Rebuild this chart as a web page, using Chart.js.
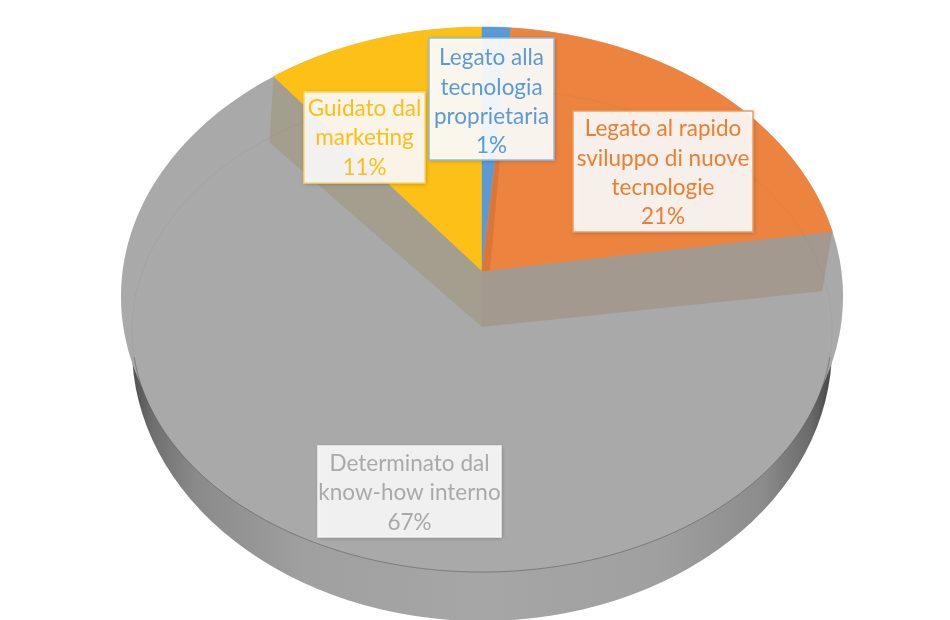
<!DOCTYPE html>
<html><head><meta charset="utf-8">
<style>html,body{margin:0;padding:0;background:#fff}canvas{display:block}</style>
<script src="https://cdn.jsdelivr.net/npm/chart.js@4"></script>
</head><body><canvas id="c" width="950" height="620"></canvas>
<script>
// Data (labels show rounded percentages)
const categories = ["Legato alla tecnologia proprietaria","Legato al rapido sviluppo di nuove tecnologie","Determinato dal know-how interno","Guidato dal marketing"];
const values = [1.4, 21.2, 66.7, 10.7];
const sliceColors = ["#5b9bd5","#ec8440","#a9a9a9","#fdc016"];
const textColors = ["#5b9bd5","#ed7d31","#a9a9a9","#fbbf1a"];
const labelLines = [["Legato alla","tecnologia","proprietaria"],["Legato al rapido","sviluppo di nuove","tecnologie"],["Determinato dal","know-how interno"],["Guidato dal","marketing"]];

// Layout
const labelBoxes = [
 {x:429,y:38,w:125,h:122,dy:3,bg:"rgba(255,255,255,0.92)",border:"#8fbce2"},
 {x:573,y:111,w:180,h:121,dy:1.5,bg:"rgba(255,255,255,0.9)",border:"#ef9a5f"},
 {x:318,y:446,w:183,h:91,dy:1.5,bg:"rgba(255,255,255,0.88)",border:"#f4f4f4"},
 {x:304,y:92,w:121,h:91,dy:0.5,bg:"rgba(255,255,255,0.9)",border:"#fdd568"}];
const TOP = {cx:482,cy:271,A:359.4,B:267.1,k:0.0946};
const FLOOR = {cx:482,cy:327,A:350,B:242,k:0.0124};
const WALL = {cx:482,cy:348,rx:350,ry:273};
const FONT = "22.5px Lato";
const LINE_H = 29.3;

function proj(P,a,r){const u=r*Math.cos(a),v=-r*Math.sin(a),w=1+P.k*v;return [P.cx+P.A*u/w,P.cy-P.B*v/w];}
function sector(ctx,P,a0,a1){ctx.beginPath();ctx.moveTo(P.cx,P.cy);const n=Math.max(4,Math.ceil((a1-a0)*60));
 for(let i=0;i<=n;i++){const p=proj(P,a0+(a1-a0)*i/n,1);ctx.lineTo(p[0],p[1]);}ctx.closePath();}
function disc(ctx,P){ctx.beginPath();for(let i=0;i<=240;i++){const p=proj(P,i/240*2*Math.PI,1);i?ctx.lineTo(p[0],p[1]):ctx.moveTo(p[0],p[1]);}ctx.closePath();}
function quad(ctx,a,b,c,d,col){ctx.beginPath();ctx.moveTo(a[0],a[1]);ctx.lineTo(b[0],b[1]);ctx.lineTo(c[0],c[1]);ctx.lineTo(d[0],d[1]);ctx.closePath();ctx.fillStyle=col;ctx.fill();}

const pie3d = {id:"pie3d",
 beforeDatasetDraw(chart,args){
  const ctx=chart.ctx, arcs=args.meta.data;
  const col=i=>arcs[i].options.backgroundColor;
  ctx.save();
  // outer wall
  const g=ctx.createLinearGradient(WALL.cx-WALL.rx,0,WALL.cx+WALL.rx,0);
  [[0,"#4f4f4f"],[0.03,"#6f6f6f"],[0.09,"#8a8a8a"],[0.25,"#a0a0a0"],[0.5,"#a6a6a6"],[0.75,"#a0a0a0"],[0.9,"#8c8c8c"],[0.97,"#6a6a6a"],[1,"#454545"]].forEach(s=>g.addColorStop(s[0],s[1]));
  ctx.beginPath();ctx.ellipse(WALL.cx,WALL.cy,WALL.rx,WALL.ry,0,0,2*Math.PI);ctx.fillStyle=g;ctx.fill();
  // grey surface
  ctx.fillStyle=col(2);disc(ctx,TOP);ctx.fill();disc(ctx,FLOOR);ctx.fill();
  // inner walls of the grey slice
  const aO=arcs[1].endAngle,aY=arcs[3].startAngle;
  quad(ctx,[TOP.cx,TOP.cy],proj(TOP,aO,1),proj(FLOOR,aO,0.985),[FLOOR.cx,FLOOR.cy],"#a3998f");
  quad(ctx,[TOP.cx,TOP.cy],proj(TOP,aY,1),proj(FLOOR,aY,0.985),[FLOOR.cx,FLOOR.cy],"#a39e8e");
  // raised slices
  [3,0,1].forEach(i=>{sector(ctx,TOP,arcs[i].startAngle,arcs[i].endAngle);ctx.fillStyle=col(i);ctx.fill();ctx.strokeStyle=col(i);ctx.lineWidth=0.5;ctx.stroke();});
  // side shade next to the blue slice
  const bE=arcs[0].endAngle,pS=proj(TOP,bE,0.45),pE=proj(TOP,bE+0.03,0.45);
  quad(ctx,[TOP.cx,TOP.cy],pS,pE,[TOP.cx+8,TOP.cy-0.5],"#dc7636");
  // rim line
  disc(ctx,FLOOR);ctx.strokeStyle="rgba(90,90,90,0.08)";ctx.lineWidth=1;ctx.stroke();
  ctx.save();ctx.beginPath();ctx.rect(0,FLOOR.cy+30,950,400);ctx.clip();disc(ctx,FLOOR);ctx.strokeStyle="rgba(90,90,90,0.5)";ctx.stroke();ctx.restore();
  ctx.restore();
  return false;
 },
 afterDraw(chart){
  const ctx=chart.ctx, total=values.reduce((a,b)=>a+b,0);
  ctx.save();ctx.textAlign="center";ctx.textBaseline="middle";ctx.font=FONT;
  labelBoxes.forEach((b,i)=>{
   ctx.save();ctx.shadowColor="rgba(0,0,0,0.28)";ctx.shadowBlur=4;ctx.shadowOffsetX=1;ctx.shadowOffsetY=1;
   ctx.fillStyle=b.bg;ctx.fillRect(b.x,b.y,b.w,b.h);ctx.restore();
   ctx.strokeStyle=b.border;ctx.lineWidth=1.5;ctx.strokeRect(b.x,b.y,b.w,b.h);
   const lines=labelLines[i].concat([Math.round(values[i]/total*100)+"%"]);
   const y0=b.y+b.h/2-(lines.length-1)*LINE_H/2+b.dy;
   ctx.fillStyle=textColors[i];
   ctx.filter="blur(0.4px)";
   lines.forEach((t,j)=>ctx.fillText(t,b.x+b.w/2,y0+j*LINE_H));
   ctx.filter="none";
  });
  ctx.restore();
 }};

new Chart(document.getElementById("c"),{type:"pie",
 data:{labels:categories,datasets:[{data:values,backgroundColor:sliceColors,borderWidth:0}]},
 options:{responsive:false,animation:false,rotation:0,events:[],plugins:{legend:{display:false},tooltip:{enabled:false},title:{display:false}}},
 plugins:[pie3d]});
</script></body></html>
